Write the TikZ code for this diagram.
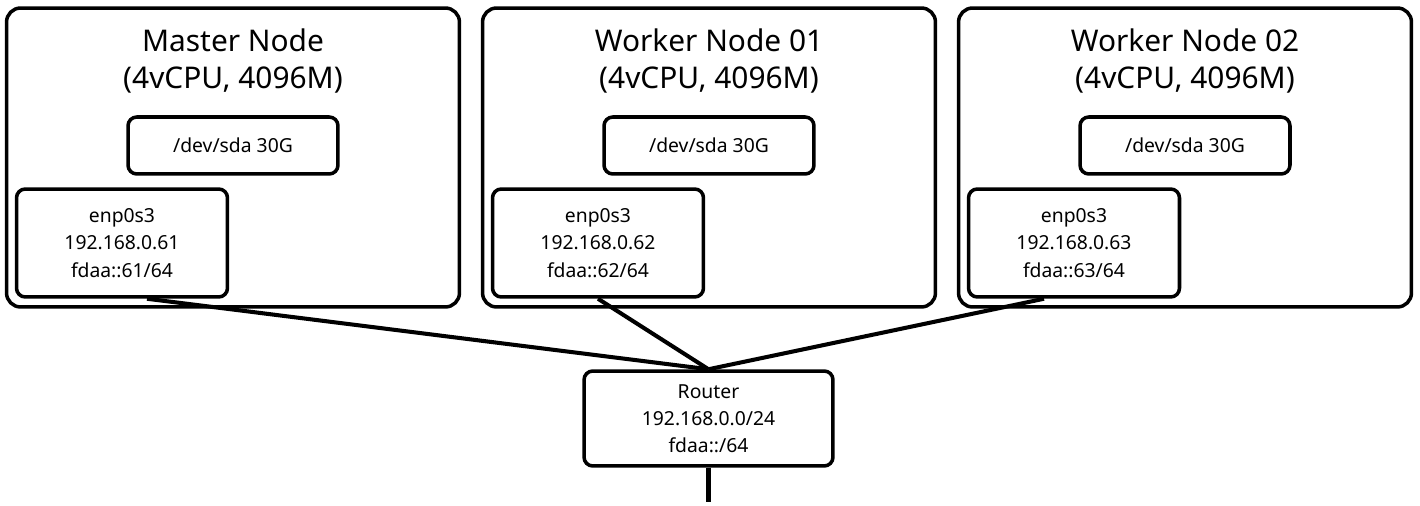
\documentclass[tikz,border=0pt]{standalone}
\usepackage{fontspec}
\setmainfont{Noto Sans}
\tikzset{
  host/.style={draw, line width=2pt, rounded corners=8pt, minimum width=9.06cm, minimum height=5.98cm},
  box/.style={draw, line width=2pt, rounded corners=5pt, align=center, font=\fontsize{11}{15.5}\selectfont},
  title/.style={align=center, font=\bfseries\fontsize{17}{21.5}\selectfont},
  link/.style={line width=2.3pt}
}
\begin{document}
\begin{tikzpicture}[x=0.02cm, y=-0.02cm]
        \useasboundingbox (0,0) rectangle (1420,506);

        \foreach \x/\n/\t/\ip in {233/m/Master Node/61, 709/w1/Worker Node 01/62, 1185/w2/Worker Node 02/63} {
            \node[host] (\n) at (\x, 157.5) {};
            \node[title] (\n-title) at (\x, 61) {\t\\(4vCPU, 4096M)};
            \node[box, minimum width=4.2cm, minimum height=1.14cm] (\n-disk) at (\x, 145.5) {/dev/sda 30G};
            \node[box, minimum width=4.22cm, minimum height=2.16cm] (\n-nic) at (\x - 111, 243) {enp0s3\\192.168.0.\ip\\fdaa::\ip/64};
        }

        \node[box, minimum width=4.98cm, minimum height=1.9cm] (router) at (708.5, 418.5) {Router\\192.168.0.0/24\\fdaa::/64};
        \coordinate (uplink) at (708.5, 502);

        \draw[link] ([xshift=0.5cm]m-nic.south) -- (router.north);
        \draw[link] (w1-nic.south) -- (router.north);
        \draw[link] ([xshift=-0.6cm]w2-nic.south) -- (router.north);
        \draw[link] (router.south) -- (uplink);
    \end{tikzpicture}
\end{document}
